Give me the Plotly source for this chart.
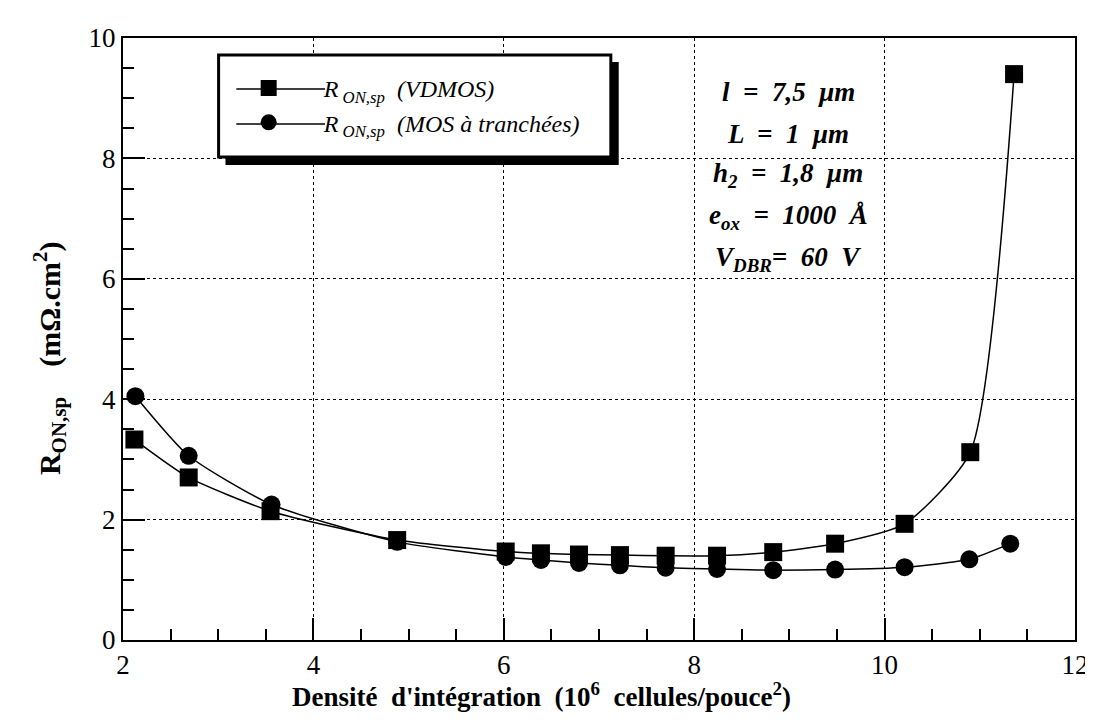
import plotly.graph_objects as go

# ---- data ----
x_vdmos = [2.12, 2.69, 3.55, 4.88, 6.02, 6.39, 6.79, 7.22, 7.70, 8.24, 8.83, 9.48, 10.21, 10.90, 11.36]
y_vdmos = [3.33, 2.70, 2.14, 1.66, 1.47, 1.44, 1.42, 1.41, 1.40, 1.40, 1.46, 1.60, 1.93, 3.12, 9.40]

x_trench = [2.13, 2.69, 3.56, 4.88, 6.02, 6.39, 6.79, 7.22, 7.70, 8.24, 8.83, 9.48, 10.21, 10.89, 11.32]
y_trench = [4.05, 3.06, 2.25, 1.63, 1.38, 1.33, 1.28, 1.24, 1.20, 1.18, 1.16, 1.17, 1.21, 1.34, 1.60]

name_vdmos = "<i>R</i><sub> <i>ON,sp</i></sub>  <i>(VDMOS)</i>"
name_trench = "<i>R</i><sub> <i>ON,sp</i></sub>  <i>(MOS à tranchées)</i>"

param_lines = [
    "<b><i>l  =  7,5  μm</i></b>",
    "<b><i>L  =  1  μm</i></b>",
    "<b><i>h</i></b><sub><b><i>2</i></b></sub><b><i>  =  1,8  μm</i></b>",
    "<b><i>e</i></b><sub><b><i>ox</i></b></sub><b><i>  =  1000  Å</i></b>",
    "<b><i>V</i></b><sub><b><i>DBR</i></b></sub><b><i>=  60  V</i></b>",
]

x_title = "<b>Densité  d'intégration  (10<sup>6</sup>  cellules/pouce<sup>2</sup>)</b>"
y_title = "<b>R<sub>ON,sp</sub>    (mΩ.cm<sup>2</sup>)</b>"

# ---- layout geometry ----
W, H = 1093, 720
ML, MR, MT, MB = 115, 12, 30, 88
PW, PH = W - ML - MR, H - MT - MB


def px(xp):
    return (xp - ML) / PW


def py(yp):
    return 1 - (yp - MT) / PH


SERIF = "Liberation Serif"

fig = go.Figure()
# data traces (legend entries are drawn by the marker-only twins below)
fig.add_trace(go.Scatter(
    x=x_vdmos, y=y_vdmos, mode="lines+markers", name=name_vdmos, showlegend=False,
    line=dict(color="black", width=1.5, shape="spline", smoothing=0.6),
    marker=dict(symbol="square", size=18, color="black"),
))
fig.add_trace(go.Scatter(
    x=x_trench, y=y_trench, mode="lines+markers", name=name_trench, showlegend=False,
    line=dict(color="black", width=1.5, shape="spline", smoothing=0.6),
    marker=dict(symbol="circle", size=18, color="black"),
))
# legend-only entries
fig.add_trace(go.Scatter(x=[None], y=[None], mode="markers", name=name_vdmos,
                         marker=dict(symbol="square", size=16, color="black")))
fig.add_trace(go.Scatter(x=[None], y=[None], mode="markers", name=name_trench,
                         marker=dict(symbol="circle", size=16, color="black")))

axis_common = dict(
    showline=True, linecolor="black", linewidth=2, mirror=True,
    ticks="inside", ticklen=22, tickwidth=1.5, tickcolor="black",
    showgrid=True, gridcolor="black", griddash="dot", gridwidth=1,
    zeroline=False,
    tickfont=dict(family=SERIF, size=27, color="black"),
    minor=dict(dtick=0.5, ticks="inside", ticklen=11, tickwidth=1.5,
               tickcolor="black", showgrid=False),
)

fig.update_xaxes(range=[2, 12], dtick=2, tick0=2, **axis_common)
fig.update_yaxes(range=[0, 10], dtick=2, tick0=0, **axis_common)

legend_rows = [81, 116]
shapes = [
    # legend shadow
    dict(type="rect", xref="paper", yref="paper",
         x0=px(219), x1=px(618), y0=py(157), y1=py(54),
         fillcolor="black", line=dict(width=0), layer="above"),
    # legend box
    dict(type="rect", xref="paper", yref="paper",
         x0=px(212), x1=px(610), y0=py(149), y1=py(47),
         fillcolor="white", line=dict(color="black", width=3), layer="above"),
]
for ry in legend_rows:
    shapes.append(dict(type="line", xref="paper", yref="paper",
                       x0=px(230), x1=px(320), y0=py(ry), y1=py(ry),
                       line=dict(color="black", width=1.5), layer="above"))

annotations = []
row_y = [84, 126, 167, 209, 251]
for txt, ry in zip(param_lines, row_y):
    annotations.append(dict(
        x=px(790), y=py(ry), xref="paper", yref="paper",
        text=txt, showarrow=False, xanchor="center", yanchor="middle",
        font=dict(family=SERIF, size=27, color="black"),
    ))
annotations.append(dict(
    x=px(540), y=py(687), xref="paper", yref="paper", text=x_title,
    showarrow=False, xanchor="center", yanchor="middle",
    font=dict(family=SERIF, size=27, color="black"),
))
annotations.append(dict(
    x=px(40), y=py(350), xref="paper", yref="paper", text=y_title,
    showarrow=False, xanchor="center", yanchor="middle", textangle=-90,
    font=dict(family=SERIF, size=30, color="black"),
))

fig.update_layout(
    width=W, height=H,
    margin=dict(l=ML, r=MR, t=MT, b=MB),
    paper_bgcolor="white", plot_bgcolor="white",
    shapes=shapes, annotations=annotations,
    showlegend=True,
    legend=dict(
        x=px(207), y=py(58), xanchor="left", yanchor="top",
        bgcolor="rgba(0,0,0,0)", borderwidth=0,
        font=dict(family=SERIF, size=24, color="black"),
        itemwidth=100, tracegroupgap=0,
    ),
)

fig.write_html("out.html")
